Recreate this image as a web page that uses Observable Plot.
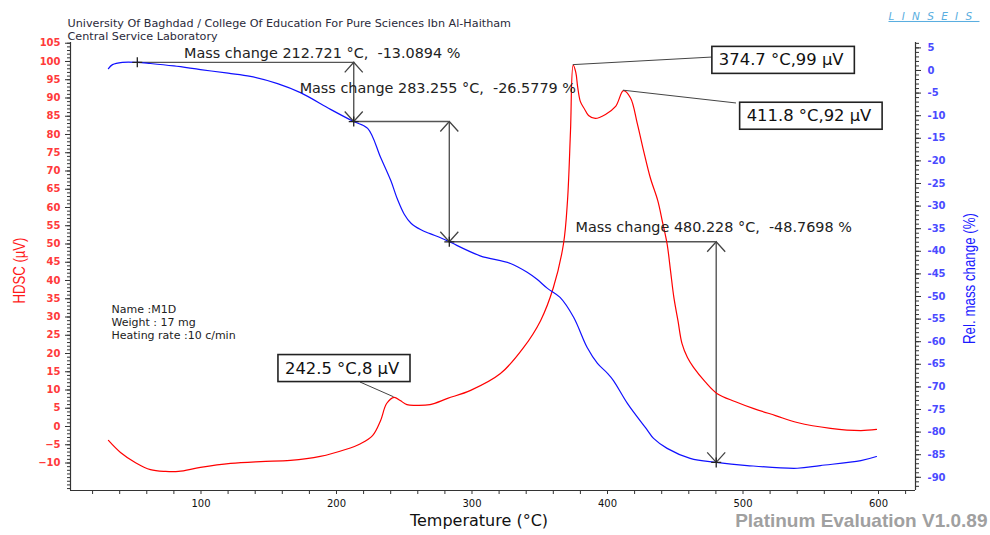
<!DOCTYPE html>
<html><head><meta charset="utf-8">
<script src="https://cdn.jsdelivr.net/npm/d3@7"></script>
<script src="https://cdn.jsdelivr.net/npm/@observablehq/plot@0.6"></script>
<style>
html,body{margin:0;padding:0;background:#fff;}
#wrap{position:relative;width:990px;height:535px;overflow:hidden;}
</style></head><body><div id="wrap"></div>
<script>
// ---------- data ----------
const dscT = [31.7, 40.6, 51.7, 62.7, 73.8, 83.4, 99.6, 121.8, 144, 166, 188, 206.6, 217.7, 226.6, 232.5, 237, 242.5, 247, 252, 258, 269, 282, 299, 321, 338, 350.6, 360, 367.5, 370.5, 372.7, 374.7, 376.6, 378, 380, 383, 386, 391, 398.5, 406, 411.8, 417, 422, 426.6, 431.7, 437, 440.6, 444, 446.5, 449, 452, 455, 459, 463.5, 472, 481, 494.5, 508, 524, 540, 564.6, 587, 598.5];
const dscV = [-3.8, -7.1, -9.9, -11.8, -12.3, -12.3, -11.2, -10.1, -9.6, -9.3, -8.2, -6.3, -4.7, -2.5, 1.6, 6.3, 8, 7.1, 6, 5.8, 6, 7.7, 9.9, 14.5, 21.6, 29, 38, 50, 62, 81, 99, 97, 93, 89, 87, 85.2, 84.4, 85.5, 87.7, 92, 90, 83, 75.6, 68, 62, 56, 50, 42.7, 35.3, 29, 22.7, 18.9, 16.2, 12.3, 9, 6.8, 4.9, 3, 1.1, -0.5, -1.1, -0.8];

const tgT = [31.7, 34.7, 42, 53, 62.7, 80, 99.6, 120, 136.5, 156.5, 173.4, 195.6, 212.7, 223, 232.5, 240, 245, 250, 255, 262, 269, 276.8, 283.3, 306, 328.4, 341, 348, 355.7, 365, 375, 385, 392.6, 400, 404.4, 414.8, 429.5, 434, 444, 461, 480.2, 503, 540, 557, 587, 598.5];
const tgP = [0.4, 1.3, 1.8, 1.8, 1.55, 1.0, 0.2, -0.6, -1.3, -2.9, -4.9, -8.6, -11.3, -12.8, -19.2, -24.3, -28.5, -31.8, -33.8, -35.2, -36.1, -37, -37.9, -41, -42.7, -44.7, -46.2, -48.2, -50.2, -54.6, -61.3, -64.8, -67, -68.6, -73.7, -79.6, -81.4, -83.6, -85.8, -86.7, -87.4, -88, -87.4, -86.3, -85.4];

const markerT = [53, 212.721, 283.255, 480.228];
const markerP = [1.8, -11.3, -37.9, -86.7];
const massChange = ["-13.0894", "-26.5779", "-48.7698"];

const peakT = [242.5, 374.7, 411.8];
const peakV = [8, 99, 92];

const xTickLabels = [100, 200, 300, 400, 500, 600];
const leftTickLabels = [-10, -5, 0, 5, 10, 15, 20, 25, 30, 35, 40, 45, 50, 55, 60, 65, 70, 75, 80, 85, 90, 95, 100, 105];
const rightTickLabels = [5, 0, -5, -10, -15, -20, -25, -30, -35, -40, -45, -50, -55, -60, -65, -70, -75, -80, -85, -90];

const headerLines = ["University Of Baghdad / College Of Education For Pure Sciences Ibn Al-Haitham", "Central Service Laboratory"];
const infoLines = ["Name :M1D", "Weight : 17 mg", "Heating rate :10 c/min"];
const leftTitle = "HDSC (µV)";
const rightTitle = "Rel. mass change (%)";
const logoText = "LINSEIS";

// ---------- layout ----------
const xDomain = [3.7, 627.3];
const hdscDomain = [-17.53, 105.2];
const tgDomain = [-92.92, 6.19];
const tg2y = d3.scaleLinear().domain(tgDomain).range(hdscDomain);

const massLabelOffsets = [[-31.5, -9], [-11.5, -33], [-2.5, -14]];
const peakLabelOffsets = [[-52, -29], [208, -5], [185.5, 25.3]];
const leaderOffsets = [[-33.6, -14.8], [139.3, -7.6], [113, 12.8]];

const dsc = dscT.map((t, i) => ({T: t, V: dscV[i]}));
const tg = tgT.map((t, i) => ({T: t, P: tgP[i]}));
const markers = markerT.map((t, i) => ({T: t, Y: tg2y(markerP[i])}));
const hSeg = markerT.slice(1).map((t, i) => ({x1: markerT[i], x2: t, y: tg2y(markerP[i])}));
const vSeg = markerT.slice(1).map((t, i) => ({x: t, y1: tg2y(markerP[i]), y2: tg2y(markerP[i + 1])}));
const upHeads = markerT.slice(1).map((t, i) => ({T: t, Y: tg2y(markerP[i])}));
const downHeads = markerT.slice(1).map((t, i) => ({T: t, Y: tg2y(markerP[i + 1])}));

const chevronUp = {draw(c) { c.moveTo(-9, 10); c.lineTo(0, 0); c.lineTo(9, 10); }};
const chevronDown = {draw(c) { c.moveTo(-9, -10); c.lineTo(0, 0); c.lineTo(9, -10); }};
const plusSym = {draw(c) { c.moveTo(-5, 0); c.lineTo(5, 0); c.moveTo(0, -5); c.lineTo(0, 5); }};

const FONT = "DejaVu Sans, Verdana, sans-serif";
const NARROW = "Liberation Sans Narrow, Arial Narrow, Liberation Sans, Arial, sans-serif";
const AX = "#333";

const peakTexts = peakT.map((t, i) => `${t} °C,${peakV[i]} µV`);

const massMarks = massChange.map((m, i) => Plot.text([{x: markerT[i + 1], y: tg2y(markerP[i]), t: `Mass change ${markerT[i + 1]} °C,\u00a0 ${m} %`}], {
  x: "x", y: "y", text: "t", dx: massLabelOffsets[i][0], dy: massLabelOffsets[i][1],
  fontSize: 14.4, fill: "#222", fontFamily: FONT
}));
const peakMarks = peakT.map((t, i) => Plot.text([{x: t, y: peakV[i], t: peakTexts[i]}], {
  x: "x", y: "y", text: "t", dx: peakLabelOffsets[i][0], dy: peakLabelOffsets[i][1],
  fontSize: 16.4, fill: "#111", fontFamily: FONT
}));

const plot = Plot.plot({
  width: 990, height: 535,
  marginLeft: 70, marginRight: 75, marginTop: 42, marginBottom: 45,
  x: {domain: xDomain, label: null},
  y: {domain: hdscDomain, label: null},
  style: {fontFamily: FONT, background: "#fff", overflow: "visible"},
  marks: [
    // axes
    Plot.axisX(d3.range(20, 621, 20), {tickSize: 4, tickFormat: () => "", color: AX}),
    Plot.axisX(xTickLabels, {tickSize: 0, tickPadding: 9, fontSize: 10, color: "#111", label: null}),
    Plot.axisY(d3.range(-17, 106, 1), {anchor: "left", tickSize: 3, tickFormat: () => "", color: AX, label: null}),
    Plot.axisY(leftTickLabels, {anchor: "left", tickSize: 5, tickFormat: () => "", color: AX, label: null}),
    Plot.axisY(leftTickLabels, {anchor: "left", tickSize: 0, tickPadding: 10, fontSize: 10, fontWeight: "bold", color: "#ff3a3a", label: null}),
    Plot.axisY(d3.range(-92, 7, 1).map(tg2y), {anchor: "right", tickSize: 3, tickFormat: () => "", color: AX, label: null}),
    Plot.axisY(rightTickLabels.map(tg2y), {anchor: "right", tickSize: 5, tickFormat: () => "", color: AX, label: null}),
    Plot.axisY(rightTickLabels.map(tg2y), {anchor: "right", tickSize: 0, tickPadding: 12, fontSize: 10, fontWeight: "bold", color: "#4a4aff", label: null, tickFormat: d => Math.round(tg2y.invert(d))}),
    Plot.ruleX([xDomain[0]], {stroke: AX, strokeWidth: 1.2}),
    Plot.ruleX([xDomain[1]], {stroke: AX, strokeWidth: 1.2}),
    Plot.ruleY([hdscDomain[0]], {stroke: AX, strokeWidth: 1.2}),
    // annotation geometry
    Plot.ruleY(hSeg, {y: "y", x1: "x1", x2: "x2", stroke: "#555", strokeWidth: 1.4}),
    Plot.ruleX(vSeg, {x: "x", y1: "y1", y2: "y2", stroke: "#555", strokeWidth: 1.4}),
    // curves
    Plot.line(dsc, {x: "T", y: "V", stroke: "#ff0000", strokeWidth: 1.2, curve: "catmull-rom"}),
    Plot.line(tg, {x: "T", y: d => tg2y(d.P), stroke: "#1010ff", strokeWidth: 1.2, curve: "catmull-rom"}),
    Plot.dot(upHeads, {x: "T", y: "Y", symbol: chevronUp, fill: "none", stroke: "#444", strokeWidth: 1.3}),
    Plot.dot(downHeads, {x: "T", y: "Y", symbol: chevronDown, fill: "none", stroke: "#444", strokeWidth: 1.3}),
    Plot.dot(markers, {x: "T", y: "Y", symbol: plusSym, fill: "none", stroke: "#222", strokeWidth: 1.3}),
    ...massMarks,
    ...peakMarks,
    // texts around the frame
    Plot.text([headerLines.join("\n")], {frameAnchor: "top-left", dx: -3, dy: -25, textAnchor: "start", lineAnchor: "top", lineHeight: 1.2, fontSize: 11.2, fill: "#2a2a3a", fontFamily: FONT}),
    Plot.text([infoLines.join("\n")], {frameAnchor: "top-left", dx: 41, dy: 261, textAnchor: "start", lineAnchor: "top", lineHeight: 1.2, fontSize: 11, fill: "#222", fontFamily: FONT}),
    Plot.text([leftTitle], {frameAnchor: "left", textAnchor: "middle", dx: -51, dy: 4, rotate: -90, fontSize: 17, fill: "#ff1a1a", fontFamily: NARROW}),
    Plot.text([rightTitle], {frameAnchor: "right", textAnchor: "middle", dx: 54, dy: 12, rotate: -90, fontSize: 17, fill: "#1a1aff", fontFamily: NARROW}),
    Plot.text(["Temperature (°C)"], {frameAnchor: "bottom", textAnchor: "middle", dx: -14, dy: 35, fontSize: 16, fill: "#111", fontFamily: FONT}),
    Plot.text(["Platinum Evaluation V1.0.89"], {frameAnchor: "bottom-right", textAnchor: "end", dx: 72, dy: 36.5, fontSize: 19, fontWeight: "bold", fill: "#a0a0a0", fontFamily: "Liberation Sans, Arial, sans-serif"}),
    Plot.text([logoText], {frameAnchor: "top-right", textAnchor: "start", dx: -27, dy: -30, fontSize: 10.5, fontStyle: "italic", fill: "#5aaee0", fontFamily: FONT})
  ]
});

document.getElementById("wrap").append(plot);

// ---------- post: boxes around peak labels, leader lines, title squeeze ----------
const svg = d3.select(plot);
const xs = plot.scale("x"), ys = plot.scale("y");
const allTexts = Array.from(plot.querySelectorAll("text"));
const findText = s => allTexts.find(el => el.textContent === s);

const peakEls = peakTexts.map(findText).filter(Boolean);
if (peakEls.length) {
  const firstG = peakEls[0].parentNode;
  const leaderG = d3.select(firstG.parentNode).insert("g", () => firstG);
  peakT.forEach((t, i) => {
    const px = xs.apply(t), py = ys.apply(peakV[i]);
    leaderG.append("line").attr("x1", px).attr("y1", py)
      .attr("x2", px + leaderOffsets[i][0]).attr("y2", py + leaderOffsets[i][1])
      .attr("stroke", "#444").attr("stroke-width", 1);
  });
  peakEls.forEach(el => {
    const b = el.getBBox();
    const r = document.createElementNS("http://www.w3.org/2000/svg", "rect");
    r.setAttribute("x", b.x - 7); r.setAttribute("y", b.y - 4);
    r.setAttribute("width", b.width + 17); r.setAttribute("height", b.height + 8);
    if (el.getAttribute("transform")) r.setAttribute("transform", el.getAttribute("transform"));
    r.setAttribute("fill", "#fff"); r.setAttribute("stroke", "#222"); r.setAttribute("stroke-width", 1.6);
    el.parentNode.insertBefore(r, el);
  });
}
const lt = findText(leftTitle);
if (lt) { lt.setAttribute("textLength", 66); lt.setAttribute("lengthAdjust", "spacingAndGlyphs"); }
const rt = findText(rightTitle);
if (rt) { rt.setAttribute("textLength", 131); rt.setAttribute("lengthAdjust", "spacingAndGlyphs"); }
const logo = findText(logoText);
if (logo) { logo.style.letterSpacing = "7.3px"; logo.style.textDecoration = "underline"; }
</script></body></html>
